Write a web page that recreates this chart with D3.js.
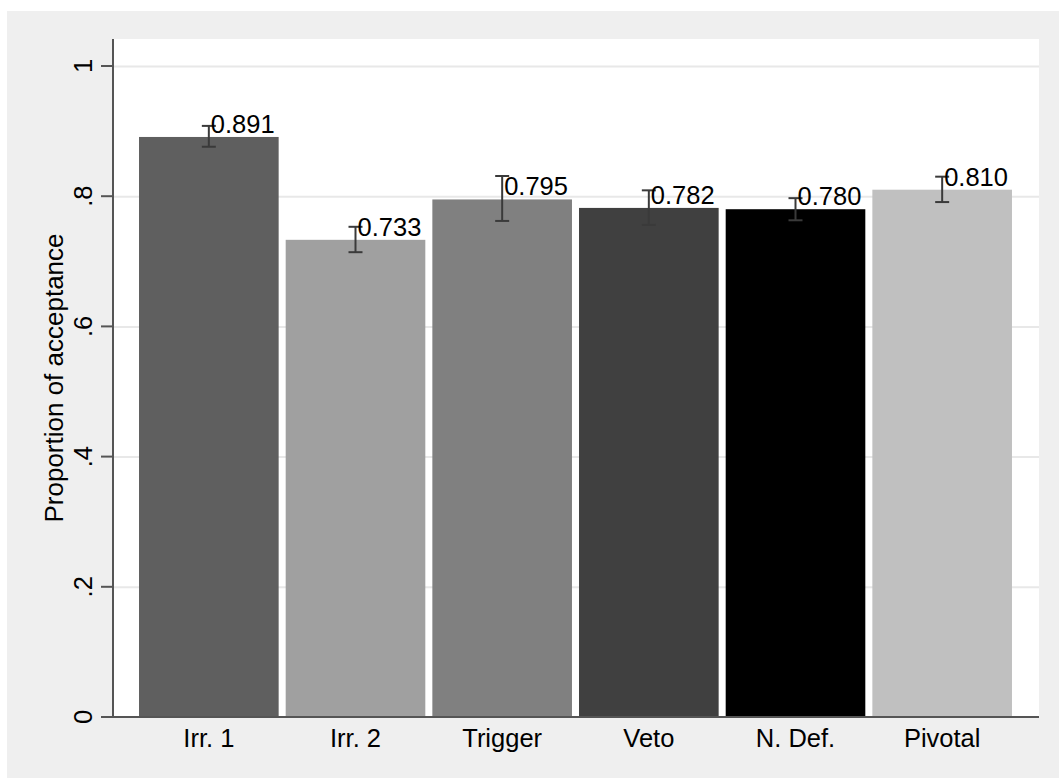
<!DOCTYPE html>
<html>
<head>
<meta charset="utf-8">
<script src="https://d3js.org/d3.v7.min.js"></script>
<style>
  body { margin: 0; background: #fff; }
  text { font-family: "Liberation Sans", Arial, sans-serif; fill: #000; }
  .grid line { stroke: #e8e8e8; stroke-width: 2; }
  .grid .domain { stroke: none; }
</style>
</head>
<body>
<svg id="chart" width="1059" height="778"></svg>
<script>
// Data
const categories = ["Irr. 1", "Irr. 2", "Trigger", "Veto", "N. Def.", "Pivotal"];
const means = [0.891, 0.733, 0.795, 0.782, 0.780, 0.810];
const ciLow = [0.876, 0.714, 0.762, 0.756, 0.763, 0.791];
const ciHigh = [0.908, 0.753, 0.831, 0.809, 0.797, 0.830];
const barColors = ["#5f5f5f", "#a0a0a0", "#808080", "#404040", "#000000", "#c0c0c0"];
const yTicks = [0, 0.2, 0.4, 0.6, 0.8, 1];
const yTickLabels = ["0", ".2", ".4", ".6", ".8", "1"];

const svg = d3.select("#chart");
const plot = { left: 113, right: 1039, top: 39, bottom: 717 };

// outer grey frame and white plot region
svg.append("rect").attr("x", 7).attr("y", 11).attr("width", 1052).attr("height", 767).attr("fill", "#efefef");
svg.append("rect").attr("x", plot.left).attr("y", plot.top)
   .attr("width", plot.right - plot.left).attr("height", plot.bottom - plot.top).attr("fill", "#fff");

const y = d3.scaleLinear().domain([0, 1]).range([plot.bottom, 66]);
const x = d3.scaleBand().domain(categories)
            .range([plot.left + 22.5, plot.right - 23.5])
            .paddingInner(0.048).paddingOuter(0.024);

// grid lines
svg.append("g").attr("class", "grid")
   .attr("transform", `translate(${plot.left},0)`)
   .call(d3.axisLeft(y).tickValues(yTicks.slice(1)).tickSize(-(plot.right - plot.left)).tickFormat(""));

const rows = categories.map((c, i) => ({ c, m: means[i], lo: ciLow[i], hi: ciHigh[i], col: barColors[i] }));

// bars
svg.append("g").selectAll("rect").data(rows).join("rect")
   .attr("x", d => x(d.c)).attr("width", x.bandwidth())
   .attr("y", d => y(d.m)).attr("height", d => y(0) - y(d.m))
   .attr("fill", d => d.col);

// error bars
const eb = svg.append("g").attr("stroke", "#3a3a3a").attr("stroke-width", 2).attr("fill", "none");
rows.forEach(d => {
  const cx = x(d.c) + x.bandwidth() / 2;
  eb.append("line").attr("x1", cx).attr("x2", cx).attr("y1", y(d.lo)).attr("y2", y(d.hi));
  eb.append("line").attr("x1", cx - 7).attr("x2", cx + 7).attr("y1", y(d.lo)).attr("y2", y(d.lo));
  eb.append("line").attr("x1", cx - 7).attr("x2", cx + 7).attr("y1", y(d.hi)).attr("y2", y(d.hi));
});

// value labels
svg.append("g").selectAll("text").data(rows).join("text")
   .attr("x", d => x(d.c) + x.bandwidth() / 2 + 2)
   .attr("y", d => y(d.m) - 4)
   .attr("font-size", 25.5)
   .text(d => d.m.toFixed(3));

// axes lines
svg.append("line").attr("x1", plot.left).attr("x2", plot.left).attr("y1", plot.top).attr("y2", plot.bottom)
   .attr("stroke", "#555").attr("stroke-width", 2);
svg.append("line").attr("x1", 101).attr("x2", plot.right).attr("y1", plot.bottom).attr("y2", plot.bottom)
   .attr("stroke", "#555").attr("stroke-width", 2);

// y ticks and rotated labels
yTicks.forEach((t, i) => {
  svg.append("line").attr("x1", 101).attr("x2", plot.left).attr("y1", y(t)).attr("y2", y(t))
     .attr("stroke", "#555").attr("stroke-width", 2);
  svg.append("text")
     .attr("transform", `translate(92,${y(t)}) rotate(-90)`)
     .attr("text-anchor", "middle").attr("font-size", 25.5)
     .text(yTickLabels[i]);
});

// x labels
svg.append("g").selectAll("text").data(categories).join("text")
   .attr("x", d => x(d) + x.bandwidth() / 2).attr("y", 747)
   .attr("text-anchor", "middle").attr("font-size", 25.5)
   .text(d => d);

// y title
svg.append("text")
   .attr("transform", `translate(62.5,${(plot.top + plot.bottom) / 2}) rotate(-90)`)
   .attr("text-anchor", "middle").attr("font-size", 26)
   .text("Proportion of acceptance");
</script>
</body>
</html>
